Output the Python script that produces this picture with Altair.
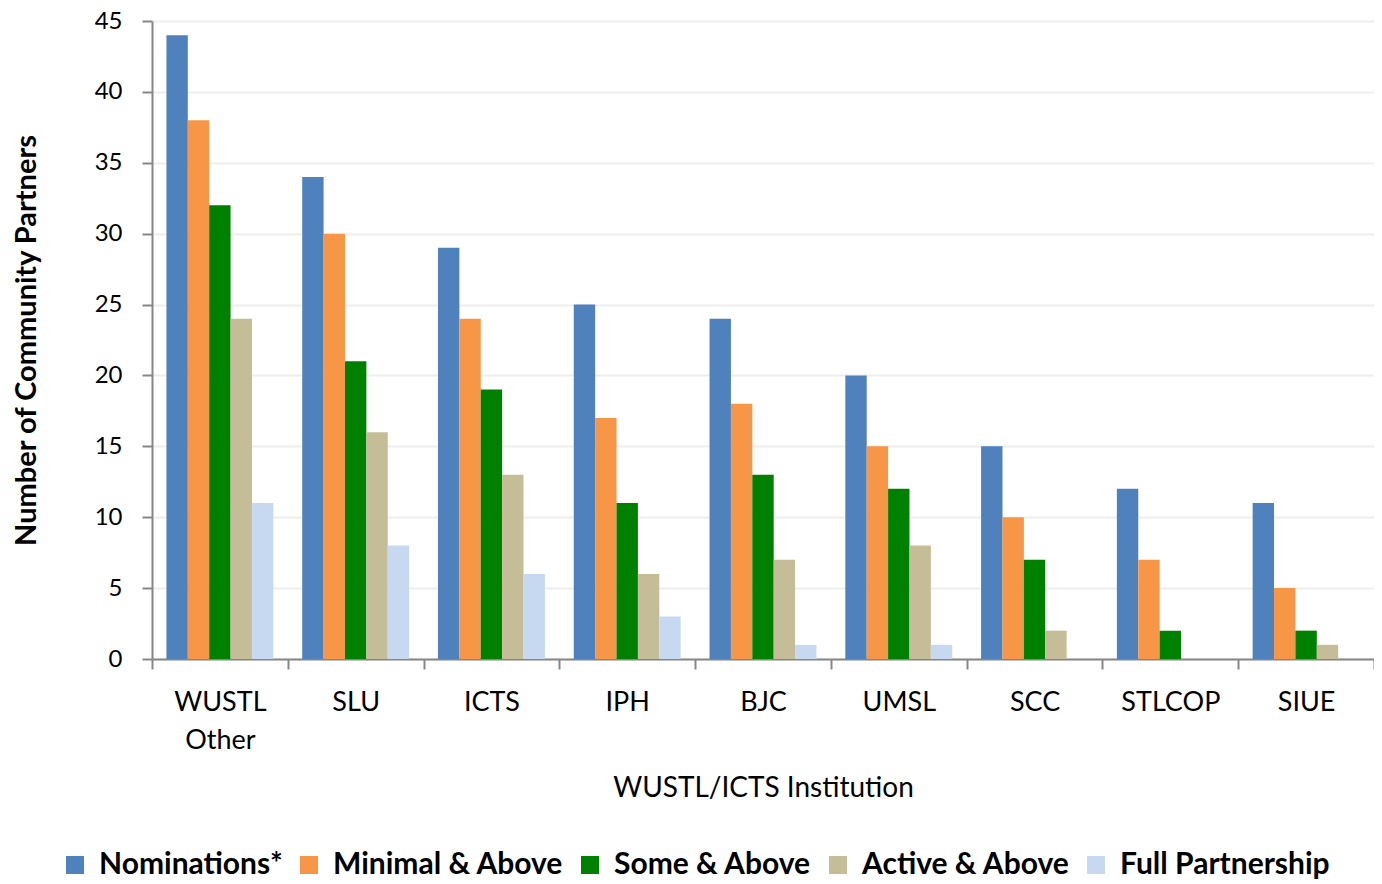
import altair as alt
import pandas as pd

institutions = ["WUSTL Other", "SLU", "ICTS", "IPH", "BJC", "UMSL", "SCC", "STLCOP", "SIUE"]
series = ["Nominations*", "Minimal & Above", "Some & Above", "Active & Above", "Full Partnership"]
nominations = [44, 34, 29, 25, 24, 20, 15, 12, 11]
minimal = [38, 30, 24, 17, 18, 15, 10, 7, 5]
some = [32, 21, 19, 11, 13, 12, 7, 2, 2]
active = [24, 16, 13, 6, 7, 8, 2, 0, 1]
full = [11, 8, 6, 3, 1, 1, 0, 0, 0]
colors = ["#4F81BD", "#F79646", "#008000", "#C4BD97", "#C6D9F1"]

rows = []
for s, vals in zip(series, [nominations, minimal, some, active, full]):
    for inst, v in zip(institutions, vals):
        rows.append({"Institution": inst, "Series": s, "Value": v})
df = pd.DataFrame(rows)

FONT = "Lato"

chart = alt.Chart(df).mark_bar().encode(
    x=alt.X("Institution:N", sort=institutions,
            scale=alt.Scale(paddingInner=0, paddingOuter=0),
            axis=alt.Axis(title="WUSTL/ICTS Institution", labelAngle=0,
                          labelExpr="split(datum.label, ' ')",
                          labelLineHeight=38, labelFontSize=27, labelFont=FONT,
                          labelColor="#000000", labelPadding=20,
                          tickBand="extent", tickSize=10, tickColor="#868686",
                          tickWidth=2, domainColor="#868686", domainWidth=2,
                          titleFont=FONT, titleFontSize=28, titleFontWeight="normal",
                          titleColor="#000000", titleY=137, titleBaseline="alphabetic")),
    xOffset=alt.XOffset("Series:N", sort=series,
                        scale=alt.Scale(paddingInner=0, paddingOuter=0.675)),
    y=alt.Y("Value:Q", scale=alt.Scale(domain=[0, 45], nice=False),
            axis=alt.Axis(title="Number of Community Partners", values=list(range(0, 50, 5)),
                          labelFontSize=24, labelFont=FONT, labelColor="#000000",
                          labelPadding=20, tickSize=10, tickColor="#868686", tickWidth=2,
                          domainColor="#868686", domainWidth=2,
                          grid=True, gridColor="#EEEEEE", gridWidth=2,
                          titleFont=FONT, titleFontSize=29, titleFontWeight="bold",
                          titleColor="#000000", titleX=-111, titleY=319,
                          titleAngle=270, titleBaseline="bottom")),
    color=alt.Color("Series:N", sort=series,
                    scale=alt.Scale(domain=series, range=colors),
                    legend=alt.Legend(title=None, orient="none", direction="horizontal",
                                      legendX=-92, legendY=829, symbolType="square",
                                      symbolSize=324, symbolStrokeWidth=0,
                                      labelFont=FONT, labelFontSize=30, labelFontWeight="bold",
                                      labelColor="#000000", labelOffset=9,
                                      columnPadding=11, padding=0, labelLimit=400)),
).properties(
    width=1222, height=638,
    padding={"left": 144, "top": 13, "right": 0, "bottom": 225},
    autosize=alt.AutoSizeParams(type="none"),
).configure_view(stroke=None).configure_axis(domainCap="butt")

chart.save("out.html", embed_options={"renderer": "svg", "actions": False})
